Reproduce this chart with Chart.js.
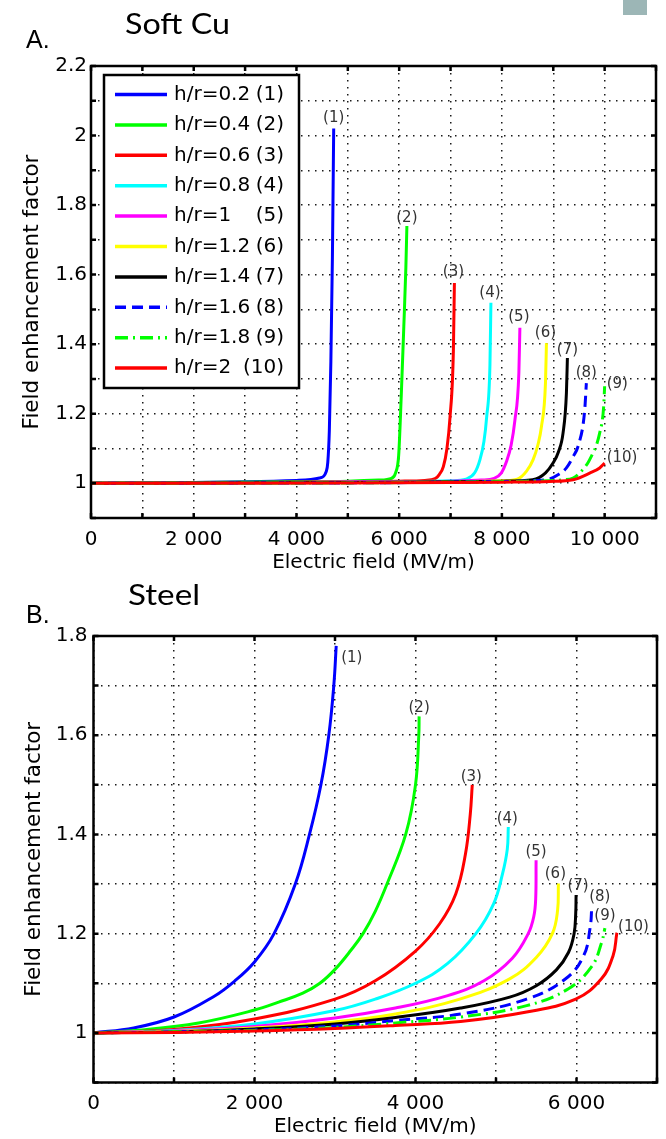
<!DOCTYPE html>
<html>
<head>
<meta charset="utf-8">
<title>Field enhancement factor vs electric field</title>
<script src="https://cdn.jsdelivr.net/npm/chart.js@4.4.0/dist/chart.umd.min.js"></script>
<style>
  html, body { margin: 0; padding: 0; background: #fff; }
  body { width: 666px; height: 1139px; position: relative; overflow: hidden; }
  canvas { position: absolute; left: 0; }
  #cuChart { top: 0; }
  #steelChart { top: 580px; }
  .tab { position: absolute; left: 623px; top: 0; width: 24px; height: 15px; background: #9cb6b6; }
</style>
</head>
<body>
<div class="tab"></div>
<canvas id="cuChart" width="666" height="580"></canvas>
<canvas id="steelChart" width="666" height="560"></canvas>
<script>
// legend names and the tags written at the end of each curve
const ratioLabels = ['h/r=0.2', 'h/r=0.4', 'h/r=0.6', 'h/r=0.8', 'h/r=1', 'h/r=1.2', 'h/r=1.4', 'h/r=1.6', 'h/r=1.8', 'h/r=2'];
const curveTags = ['(1)', '(2)', '(3)', '(4)', '(5)', '(6)', '(7)', '(8)', '(9)', '(10)'];

// A. Soft Cu  -  [electric field (MV/m), field enhancement factor]
const softCu1 = [[0, 1], [1000, 1.001], [2000, 1.002], [3000, 1.004], [4000, 1.008], [4450, 1.015], [4580, 1.034], [4610, 1.06], [4640, 1.15], [4670, 1.35], [4700, 1.65], [4725, 2.02]];
const softCu2 = [[0, 1], [2000, 1.002], [4000, 1.004], [5000, 1.006], [5600, 1.009], [5850, 1.014], [5930, 1.03], [5990, 1.08], [6040, 1.25], [6090, 1.45], [6130, 1.62], [6150, 1.74]];
const softCu3 = [[0, 1], [3000, 1.002], [5000, 1.004], [6000, 1.006], [6500, 1.008], [6700, 1.013], [6780, 1.025], [6860, 1.048], [6930, 1.1], [6990, 1.19], [7055, 1.38], [7075, 1.576]];
const softCu4 = [[0, 1], [4000, 1.002], [6000, 1.004], [7000, 1.007], [7300, 1.012], [7470, 1.03], [7573, 1.068], [7650, 1.12], [7703, 1.19], [7767, 1.34], [7786, 1.519]];
const softCu5 = [[0, 1], [4000, 1.002], [6000, 1.004], [7000, 1.006], [7600, 1.009], [7850, 1.014], [7990, 1.03], [8091, 1.063], [8180, 1.11], [8252, 1.18], [8330, 1.317], [8350, 1.447]];
const softCu6 = [[0, 1], [5000, 1.002], [7000, 1.004], [8000, 1.007], [8300, 1.012], [8480, 1.035], [8608, 1.068], [8700, 1.11], [8770, 1.163], [8848, 1.288], [8867, 1.403]];
const softCu7 = [[0, 1], [5000, 1.002], [7000, 1.004], [8000, 1.006], [8600, 1.01], [8850, 1.03], [8996, 1.058], [9100, 1.09], [9190, 1.144], [9256, 1.26], [9275, 1.36]];
const softCu8 = [[0, 1], [5000, 1.001], [7000, 1.003], [8000, 1.005], [8870, 1.01], [9100, 1.025], [9256, 1.044], [9400, 1.08], [9482, 1.106], [9612, 1.21], [9644, 1.288]];
const softCu9 = [[0, 1], [5000, 1.001], [7000, 1.003], [8500, 1.006], [9200, 1.01], [9385, 1.015], [9550, 1.035], [9709, 1.068], [9903, 1.144], [9981, 1.22], [10000, 1.279]];
const softCu10 = [[0, 1], [5000, 1.001], [7000, 1.002], [8000, 1.003], [8930, 1.005], [9385, 1.01], [9709, 1.029], [9903, 1.044], [10000, 1.058]];

// B. Steel
const steel1 = [[0, 1], [500, 1.01], [1000, 1.032], [1500, 1.074], [1750, 1.104], [2000, 1.143], [2243, 1.2], [2507, 1.3], [2683, 1.4], [2825, 1.5], [2923, 1.6], [2985, 1.7], [3015, 1.78]];
const steel2 = [[0, 1], [600, 1.006], [1305, 1.02], [2000, 1.046], [2300, 1.062], [2600, 1.08], [2812, 1.1], [3000, 1.128], [3200, 1.167], [3348, 1.2], [3500, 1.245], [3646, 1.3], [3878, 1.4], [4000, 1.5], [4041, 1.6], [4045, 1.638]];
const steel3 = [[0, 1], [1000, 1.007], [2000, 1.028], [3000, 1.068], [3500, 1.105], [4000, 1.165], [4300, 1.22], [4500, 1.28], [4620, 1.36], [4680, 1.44], [4705, 1.5]];
const steel4 = [[0, 1], [1000, 1.005], [2000, 1.018], [3000, 1.045], [3500, 1.068], [4000, 1.1], [4400, 1.14], [4750, 1.2], [4970, 1.26], [5080, 1.32], [5140, 1.37], [5153, 1.415]];
const steel5 = [[0, 1], [1000, 1.004], [2000, 1.013], [3000, 1.03], [3750, 1.05], [4400, 1.075], [4850, 1.105], [5200, 1.15], [5400, 1.2], [5470, 1.235], [5493, 1.27], [5498, 1.348]];
const steel6 = [[0, 1], [1000, 1.003], [2000, 1.01], [3000, 1.022], [3750, 1.038], [4550, 1.068], [5170, 1.109], [5500, 1.152], [5700, 1.2], [5765, 1.247], [5775, 1.301]];
const steel7 = [[0, 1], [1000, 1.002], [2000, 1.008], [3000, 1.018], [3750, 1.031], [4560, 1.05], [5170, 1.072], [5500, 1.095], [5750, 1.127], [5900, 1.162], [5970, 1.2], [5990, 1.24], [5995, 1.278]];
const steel8 = [[0, 1], [1000, 1.002], [2000, 1.006], [3000, 1.014], [3750, 1.025], [4560, 1.038], [5380, 1.068], [5865, 1.109], [6090, 1.156], [6170, 1.213], [6190, 1.254]];
const steel9 = [[0, 1], [1000, 1.002], [2000, 1.005], [3000, 1.011], [3750, 1.02], [4560, 1.032], [5380, 1.055], [5900, 1.089], [6190, 1.134], [6310, 1.181], [6353, 1.211]];
const steel10 = [[0, 1], [1000, 1.001], [2000, 1.004], [3000, 1.009], [3750, 1.015], [4560, 1.023], [5380, 1.042], [5990, 1.068], [6310, 1.109], [6455, 1.156], [6500, 1.2], [6504, 1.202]];

const softCuSeries = [softCu1, softCu2, softCu3, softCu4, softCu5, softCu6, softCu7, softCu8, softCu9, softCu10];
const steelSeries = [steel1, steel2, steel3, steel4, steel5, steel6, steel7, steel8, steel9, steel10];

// matlab default-ish line styles
const lineColors = ['#0000ff', '#00ff00', '#ff0000', '#00ffff', '#ff00ff', '#ffff00', '#000000', '#0000ff', '#00ff00', '#ff0000'];
const lineDashes = [[], [], [], [], [], [], [], [11, 6], [13, 5, 2, 5], []];

const tickFont = { family: 'DejaVu Sans', size: 20 };

function groupThousands(v) {
  return String(v).replace(/\B(?=(\d{3})+(?!\d))/g, ' ');
}

function buildDatasets(series, smooth) {
  return series.map((pts, i) => ({
    label: ratioLabels[i],
    data: pts.map(([x, y]) => ({ x, y })),
    borderColor: lineColors[i],
    borderDash: lineDashes[i],
    borderWidth: 3,
    pointRadius: 0,
    fill: false,
    cubicInterpolationMode: smooth === 'monotone' ? 'monotone' : 'default',
    tension: 0.4,
    order: -i  // later curves on top, like matlab
  }));
}

// frame, inward ticks, curve tags, legend box and panel caption
function matlabLook(cfg) {
  return {
    id: 'matlabLook',
    afterDatasetsDraw(chart) {
      const { ctx, chartArea: a, scales: { x, y } } = chart;
      ctx.save();
      ctx.font = '15px "DejaVu Sans"';
      ctx.fillStyle = '#333';
      ctx.textBaseline = 'middle';
      chart.data.datasets.forEach((ds, i) => {
        const last = ds.data[ds.data.length - 1];
        const [dx, dy, align] = cfg.tagOffsets[i];
        ctx.textAlign = align;
        ctx.fillText(curveTags[i], x.getPixelForValue(last.x) + dx, y.getPixelForValue(last.y) + dy);
      });

      ctx.strokeStyle = '#000';
      ctx.lineWidth = 2.5;
      ctx.beginPath();
      x.ticks.forEach(t => {
        const px = x.getPixelForValue(t.value);
        ctx.moveTo(px, a.bottom); ctx.lineTo(px, a.bottom - 5);
        ctx.moveTo(px, a.top); ctx.lineTo(px, a.top + 5);
      });
      y.ticks.forEach(t => {
        const py = y.getPixelForValue(t.value);
        ctx.moveTo(a.left, py); ctx.lineTo(a.left + 5, py);
        ctx.moveTo(a.right, py); ctx.lineTo(a.right - 5, py);
      });
      ctx.stroke();
      ctx.strokeRect(a.left, a.top, a.width, a.height);
      ctx.restore();
    },
    afterDraw(chart) {
      const { ctx } = chart;
      ctx.save();
      const L = cfg.legend;
      if (L) {
        ctx.fillStyle = '#fff';
        ctx.fillRect(L.left, L.top, L.width, L.height);
        ctx.strokeStyle = '#000';
        ctx.lineWidth = 2.5;
        ctx.strokeRect(L.left, L.top, L.width, L.height);
        ctx.font = '20px "DejaVu Sans"';
        ctx.textBaseline = 'middle';
        chart.data.datasets.forEach((ds, i) => {
          const ry = L.firstRow + i * L.rowGap;
          ctx.strokeStyle = ds.borderColor;
          ctx.lineWidth = 3.5;
          ctx.setLineDash(ds.borderDash);
          ctx.beginPath();
          ctx.moveTo(L.left + 11, ry);
          ctx.lineTo(L.left + 63, ry);
          ctx.stroke();
          ctx.setLineDash([]);
          ctx.fillStyle = '#000';
          ctx.textAlign = 'left';
          ctx.fillText(ds.label, L.left + 70, ry);
          ctx.textAlign = 'right';
          ctx.fillText(curveTags[i], L.left + 180, ry);
        });
      }

      // panel caption (Calibri-like, slightly stretched as in the figure)
      ctx.fillStyle = '#000';
      ctx.textAlign = 'left';
      ctx.textBaseline = 'alphabetic';
      ctx.font = '28px Lato';
      const w = ctx.measureText(cfg.caption).width;
      ctx.save();
      ctx.translate(cfg.captionX, cfg.captionY);
      ctx.scale(cfg.captionWidth / w, 1);
      ctx.fillText(cfg.caption, 0, 0);
      ctx.restore();
      ctx.font = '25px "Liberation Sans"';
      ctx.fillText(cfg.panel, cfg.panelX, cfg.panelY);
      ctx.restore();
    }
  };
}

function buildScales(xMax, yMax, s) {
  return {
    x: {
      type: 'linear',
      min: 0,
      max: xMax,
      afterFit: scale => { scale.height = s.xHeight; },
      ticks: {
        stepSize: 1000,
        autoSkip: false,
        maxRotation: 0,
        minRotation: 0,
        padding: s.xTickPad,
        color: '#000',
        font: tickFont,
        callback: v => (v % 2000 === 0 ? groupThousands(v) : '')
      },
      grid: { drawTicks: false, color: '#1a1a1a', lineWidth: 1.5 },
      border: { display: false, dash: [1.5, 5.5] },
      title: {
        display: true,
        text: 'Electric field (MV/m)',
        color: '#000',
        font: tickFont,
        padding: { top: 0, bottom: s.xTitlePad }
      }
    },
    y: {
      type: 'linear',
      min: 0.9,
      max: yMax,
      afterFit: scale => { scale.width = s.yWidth; },
      ticks: {
        stepSize: 0.1,
        autoSkip: false,
        padding: s.yTickPad,
        color: '#000',
        font: tickFont,
        callback: v => (Math.round(v * 10) % 2 === 0 ? String(Math.round(v * 10) / 10) : '')
      },
      grid: { drawTicks: false, color: '#1a1a1a', lineWidth: 1.5 },
      border: { display: false, dash: [1.5, 5.5] },
      title: {
        display: true,
        text: 'Field enhancement factor',
        color: '#000',
        font: { family: 'DejaVu Sans', size: 21.5 },
        padding: { top: s.yTitlePad, bottom: 0 }
      }
    }
  };
}

const baseOptions = {
  responsive: false,
  animation: false,
  events: [],
  plugins: { legend: { display: false }, tooltip: { enabled: false } }
};

new Chart(document.getElementById('cuChart'), {
  type: 'line',
  data: { datasets: buildDatasets(softCuSeries, 'monotone') },
  options: {
    ...baseOptions,
    layout: { padding: { top: 66, right: 9.5, bottom: 0, left: 0 } },
    scales: buildScales(11000, 2.2, { xHeight: 62, xTickPad: 10, xTitlePad: 5, yWidth: 91, yTickPad: 4, yTitlePad: 20 })
  },
  plugins: [matlabLook({
    tagOffsets: [[0, -10, 'center'], [0, -8, 'center'], [-1, -11, 'center'], [-1, -10, 'center'], [-1, -11, 'center'],
                 [-1, -10, 'center'], [0, -8, 'center'], [0, -10, 'center'], [2, -2, 'left'], [2, -5, 'left']],
    legend: { left: 104, top: 75, width: 195, height: 313, firstRow: 94.5, rowGap: 30.4 },
    caption: 'Soft Cu', captionX: 125, captionY: 33.5, captionWidth: 105,
    panel: 'A.', panelX: 26, panelY: 48
  })]
});

new Chart(document.getElementById('steelChart'), {
  type: 'line',
  data: { datasets: buildDatasets(steelSeries, 'spline') },
  options: {
    ...baseOptions,
    layout: { padding: { top: 56, right: 1, bottom: 0, left: 0 } },
    scales: buildScales(7000, 1.8, { xHeight: 57.5, xTickPad: 9, xTitlePad: 1, yWidth: 93.5, yTickPad: 6, yTitlePad: 22 })
  },
  plugins: [matlabLook({
    tagOffsets: [[5, 12, 'left'], [0, -8, 'center'], [-1, -8, 'center'], [-1, -8, 'center'], [0, -8, 'center'],
                 [-3, -9, 'center'], [2, -9, 'center'], [8, -10, 'center'], [0, -12, 'center'], [1, -6, 'left']],
    caption: 'Steel', captionX: 128, captionY: 25, captionWidth: 72,
    panel: 'B.', panelX: 26, panelY: 43
  })]
});
</script>
</body>
</html>
